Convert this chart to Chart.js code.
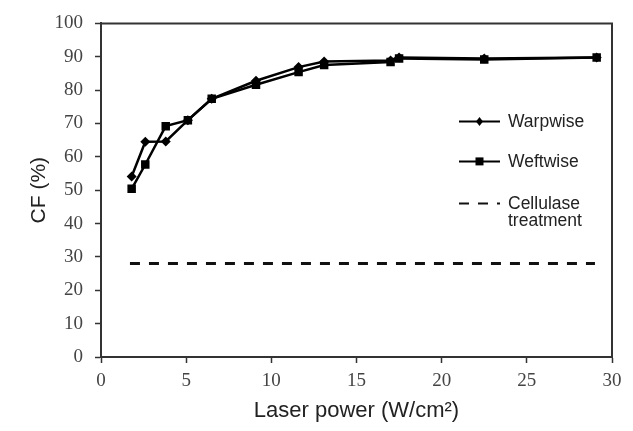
<!DOCTYPE html>
<html>
<head>
<meta charset="utf-8">
<script src="https://cdn.jsdelivr.net/npm/chart.js@4"></script>
<style>
  html, body { margin: 0; padding: 0; background: #fff; }
  #wrap { width: 633px; height: 431px; }
</style>
</head>
<body>
<div id="wrap"><canvas id="cfChart" width="633" height="431"></canvas></div>
<script>
// laser power (W/cm2)
const laserPower = [1.8, 2.6, 3.8, 5.1, 6.5, 9.1, 11.6, 13.1, 17.0, 17.5, 22.5, 29.1];
const warpwise = [54.1, 64.5, 64.6, 71.0, 77.4, 82.8, 86.9, 88.6, 88.9, 89.8, 89.5, 89.8];
const weftwise = [50.4, 57.7, 69.2, 71.0, 77.4, 81.6, 85.4, 87.5, 88.4, 89.5, 89.2, 89.8];
// cellulase reference level, drawn across the data range
const cellulaseX = [1.7, 29.0];
const cellulaseLevel = 28;
const xTicks = [0, 5, 10, 15, 20, 25, 30];
const yTicks = [0, 10, 20, 30, 40, 50, 60, 70, 80, 90, 100];

const toPoints = (xs, ys) => xs.map((x, i) => ({ x: x, y: ys[i] }));

// box round the plot (top and right edges)
const frame = {
    id: "frame",
    afterDraw(chart) {
        const { ctx, chartArea: a } = chart;
        ctx.save();
        ctx.strokeStyle = "#333";
        ctx.lineWidth = 2;
        ctx.beginPath();
        ctx.moveTo(a.left, a.top);
        ctx.lineTo(a.right, a.top);
        ctx.lineTo(a.right, a.bottom);
        ctx.stroke();
        ctx.restore();
    }
};

// legend sitting inside the plot, right side
const innerLegend = {
    id: "innerLegend",
    afterDraw(chart) {
        const { ctx, chartArea: a } = chart;
        const x0 = a.left + 358;
        const rows = [
            { ds: 0, y: a.top + 98, text: ["Warpwise"] },
            { ds: 1, y: a.top + 138, text: ["Weftwise"] },
            { ds: 2, y: a.top + 180, text: ["Cellulase", "treatment"] }
        ];
        ctx.save();
        rows.forEach(r => {
            const ds = chart.data.datasets[r.ds];
            ctx.strokeStyle = ds.borderColor;
            ctx.lineWidth = 2;
            ctx.setLineDash(ds.borderDash || []);
            ctx.beginPath();
            ctx.moveTo(x0, r.y);
            ctx.lineTo(x0 + 41, r.y);
            ctx.stroke();
            ctx.setLineDash([]);
            if (ds.pointRadius) {
                ctx.fillStyle = ds.pointBackgroundColor;
                const s = ds.pointStyle === "rect" ? 4 : 3.5;
                ctx.beginPath();
                if (ds.pointStyle === "rect") {
                    ctx.rect(x0 + 20.5 - s, r.y - s, 2 * s, 2 * s);
                } else {
                    ctx.moveTo(x0 + 20.5, r.y - s - 1);
                    ctx.lineTo(x0 + 20.5 + s, r.y);
                    ctx.lineTo(x0 + 20.5, r.y + s + 1);
                    ctx.lineTo(x0 + 20.5 - s, r.y);
                    ctx.closePath();
                }
                ctx.fill();
            }
            ctx.fillStyle = "#222";
            ctx.font = "17.5px 'Liberation Sans', Arial, sans-serif";
            ctx.textBaseline = "middle";
            r.text.forEach((t, i) => ctx.fillText(t, x0 + 49, r.y + 1 + i * 17));
        });
        ctx.restore();
    }
};

const ctx = document.getElementById("cfChart").getContext("2d");
new Chart(ctx, {
    type: "scatter",
    data: {
        datasets: [
            {
                label: "Warpwise",
                data: toPoints(laserPower, warpwise),
                showLine: true,
                borderColor: "#000",
                borderWidth: 2.5,
                pointStyle: "rectRot",
                pointRadius: 5,
                pointBackgroundColor: "#000",
                pointBorderWidth: 0
            },
            {
                label: "Weftwise",
                data: toPoints(laserPower, weftwise),
                showLine: true,
                borderColor: "#000",
                borderWidth: 2.5,
                pointStyle: "rect",
                pointRadius: 6,
                pointBackgroundColor: "#000",
                pointBorderWidth: 0
            },
            {
                label: "Cellulase treatment",
                data: toPoints(cellulaseX, cellulaseX.map(() => cellulaseLevel)),
                showLine: true,
                borderColor: "#111",
                borderWidth: 3,
                borderDash: [10, 9],
                pointRadius: 0
            }
        ]
    },
    options: {
        responsive: false,
        animation: false,
        layout: { padding: { left: 0, top: 18, right: 21, bottom: 0 } },
        plugins: {
            legend: { display: false },
            tooltip: { enabled: false }
        },
        scales: {
            x: {
                type: "linear",
                min: 0,
                max: 30,
                afterBuildTicks: s => { s.ticks = xTicks.map(v => ({ value: v })); },
                afterFit: s => { s.height = 74; },
                border: { color: "#333", width: 2 },
                grid: { drawOnChartArea: false, tickLength: 6, color: "#333", tickWidth: 1.5 },
                ticks: {
                    padding: 7,
                    color: "#444",
                    font: { family: "'Liberation Serif', 'Times New Roman', serif", size: 19 }
                },
                title: {
                    display: true,
                    text: "Laser power (W/cm²)",
                    color: "#222",
                    font: { family: "'Liberation Sans', Arial, sans-serif", size: 22 },
                    padding: { top: 0, bottom: 7 }
                }
            },
            y: {
                min: 0,
                max: 100,
                afterBuildTicks: s => { s.ticks = yTicks.map(v => ({ value: v })); },
                afterFit: s => { s.width = 101; },
                border: { color: "#333", width: 2 },
                grid: { drawOnChartArea: false, tickLength: 6, color: "#333", tickWidth: 1.5 },
                ticks: {
                    padding: 12,
                    color: "#444",
                    font: { family: "'Liberation Serif', 'Times New Roman', serif", size: 19 }
                },
                title: {
                    display: true,
                    text: "CF (%)",
                    color: "#222",
                    font: { family: "'Liberation Sans', Arial, sans-serif", size: 21 },
                    padding: { top: 27, bottom: 0 }
                }
            }
        }
    },
    plugins: [frame, innerLegend]
});
</script>
</body>
</html>
